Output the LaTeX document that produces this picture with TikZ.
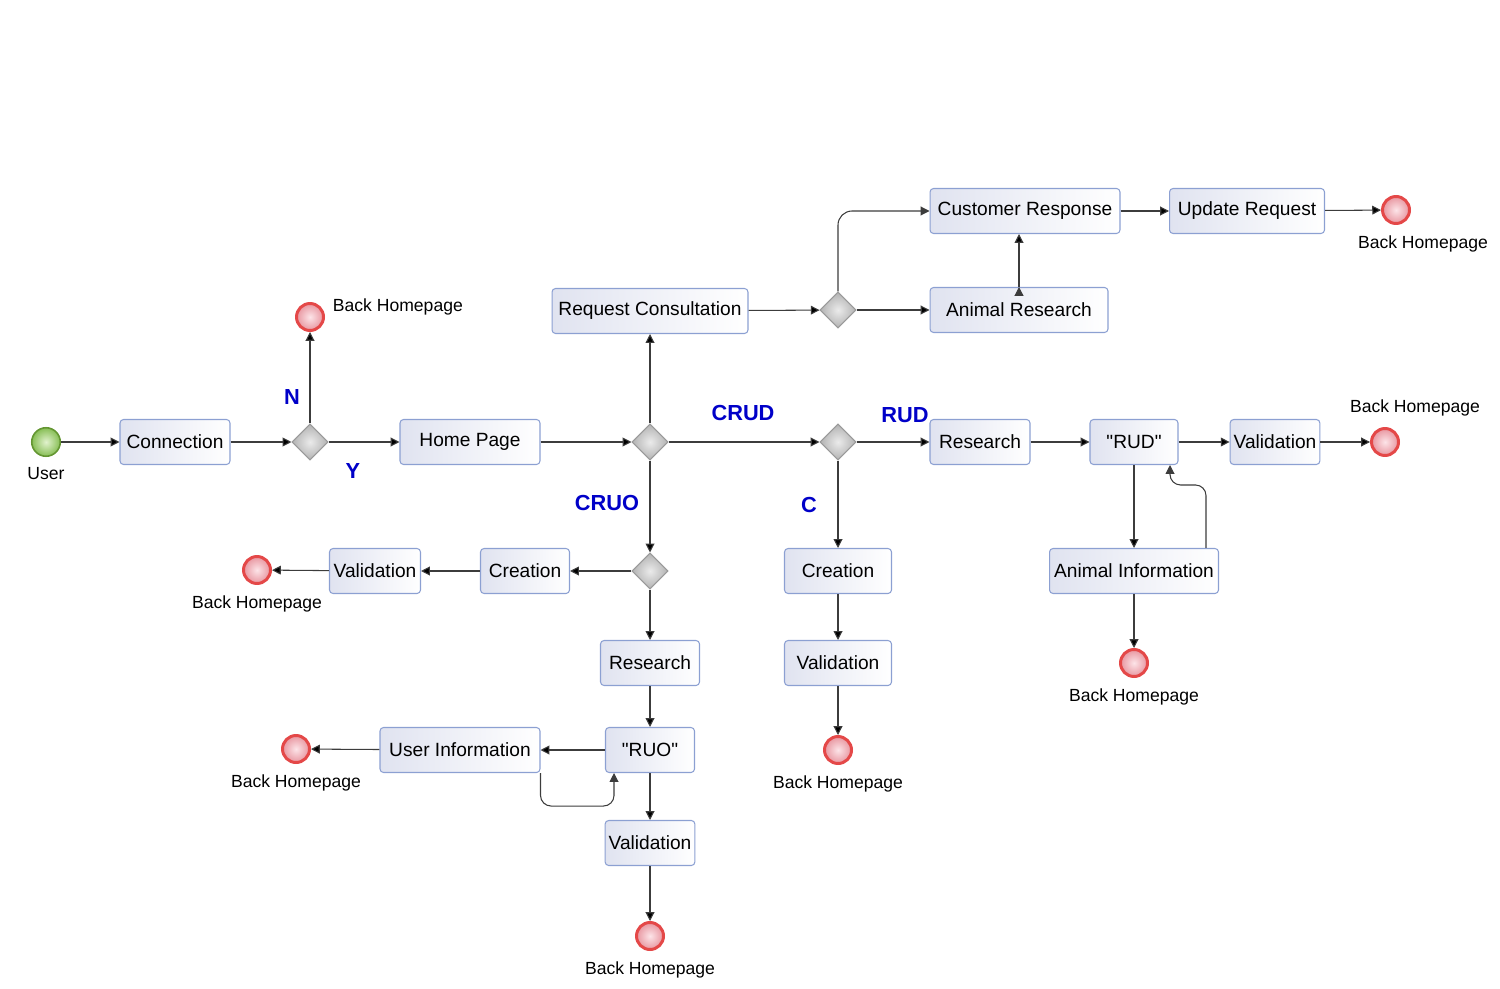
\documentclass[tikz,border=0pt]{standalone}
\usepackage{fontspec}
\setmainfont{Liberation Sans}[Ligatures=TeXOff]
\usetikzlibrary{arrows.meta,shapes.geometric,positioning}

\definecolor{lnk}{RGB}{60,60,60}
\definecolor{tskb}{RGB}{140,160,210}
\definecolor{tskl}{RGB}{224,227,240}
\definecolor{tagc}{RGB}{0,0,200}

\begin{document}
\begin{tikzpicture}[x=0.02cm, y=-0.02cm,
    >={Triangle[length=5pt,width=5pt]},
    lnk/.style = {draw=lnk, line width=0.6pt},
   task/.style = {draw=tskb, line width=0.6pt, rounded corners=2pt,
                  left color=tskl, right color=white,
                  minimum height=0.9cm, inner xsep=2pt,
                  font=\fontsize{10.9}{13}\selectfont},
   gate/.style = {diamond, draw=black!40, line width=0.6pt,
                  inner color=black!8, outer color=black!30,
                  minimum width=0.72cm, minimum height=0.72cm,
                  inner sep=0pt, aspect=1},
 startev/.style = {circle, draw={rgb,255:red,100;green,150;blue,50},
                  line width=0.9pt, minimum size=0.57cm, inner sep=0pt,
                  inner color={rgb,255:red,225;green,242;blue,205},
                  outer color={rgb,255:red,135;green,190;blue,85}},
  endev/.style = {circle, draw={rgb,255:red,228;green,72;blue,72},
                  line width=1.7pt, minimum size=0.54cm, inner sep=0pt,
                  inner color={rgb,255:red,252;green,228;blue,232},
                  outer color={rgb,255:red,232;green,150;blue,160}},
    tag/.style = {text=tagc, font=\fontsize{12.4}{15}\selectfont\bfseries},
every label/.append style = {font=\fontsize{10}{12}\selectfont},
    label distance = 2.5pt
                    ]
\useasboundingbox (0,0) rectangle (1500,989);
% start and first choice
\node (u)   [startev, label=below:User]            at (46,442)   {};
\node (cn)  [task, minimum width=2.2cm]            at (175,442)  {Connection};
\node (d1)  [gate]                                 at (310,442)  {};
\node (b1)  [endev, label={[yshift=0.2cm,label distance=1pt]right:Back Homepage}]
                                                   at (310,317)  {};
\node (hp)  [task, minimum width=2.8cm]            at (470,442)  {Home Page};
\node (d2)  [gate]                                 at (650,442)  {};
% consultation branch
\node (rc)  [task, minimum width=3.92cm]           at (650,311)  {Request Consultation};
\node (d3)  [gate]                                 at (838,310)  {};
\node (cr)  [task, minimum width=3.8cm]            at (1025,211) {Customer Response};
\node (ar)  [task, minimum width=3.56cm]           at (1019,310) {Animal Research};
\node (ur)  [task, minimum width=3.1cm]            at (1247,211) {Update Request};
\node (b2)  [endev, label={[xshift=0.54cm]below:Back Homepage}]
                                                   at (1396,210) {};
% CRUD branch
\node (d4)  [gate]                                 at (838,442)  {};
\node (rs)  [task, minimum width=2cm]              at (980,442)  {Research};
\node (rud) [task, minimum width=1.76cm]           at (1134,442) {"RUD"};
\node (va)  [task, minimum width=1.78cm]           at (1275,442) {Validation};
\node (b3)  [endev, label={[xshift=0.6cm]above:Back Homepage}]
                                                   at (1385,442) {};
\node (ai)  [task, minimum width=3.38cm]           at (1134,571) {Animal Information};
\node (b4)  [endev, label=below:Back Homepage]     at (1134,663) {};
\node (ct)  [task, minimum width=2.14cm]           at (838,571)  {Creation};
\node (vb)  [task, minimum width=2.14cm]           at (838,663)  {Validation};
\node (b5)  [endev, label=below:Back Homepage]     at (838,750)  {};
% CRUO branch
\node (d5)  [gate]                                 at (650,571)  {};
\node (cl)  [task, minimum width=1.78cm]           at (525,571)  {Creation};
\node (vl)  [task, minimum width=1.82cm]           at (375,571)  {Validation};
\node (b6)  [endev, label=below:Back Homepage]     at (257,570)  {};
\node (rl)  [task, minimum width=1.98cm]           at (650,663)  {Research};
\node (ruo) [task, minimum width=1.78cm]           at (650,750)  {"RUO"};
\node (ui)  [task, minimum width=3.2cm]            at (460,750)  {User Information};
\node (b7)  [endev, label=below:Back Homepage]     at (296,749)  {};
\node (vc)  [task, minimum width=1.78cm]           at (650,843)  {Validation};
\node (b8)  [endev, label=below:Back Homepage]     at (650,936)  {};
% choice labels
\node (tN)    [tag] at (292,397) {N};
\node (tY)    [tag] at (353,471) {Y};
\node (tCRUD) [tag] at (743,413) {CRUD};
\node (tRUD)  [tag] at (905,415) {RUD};
\node (tC)    [tag] at (809,505) {C};
\node (tCRUO) [tag] at (607,503) {CRUO};

\path[->, lnk]
    (u)   edge (cn)
    (cn)  edge (d1)
    (d1)  edge (b1)
    (d1)  edge (hp)
    (hp)  edge (d2)
    (d2)  edge (rc)
    (d2)  edge (d4)
    (d2)  edge (d5)
    (rc)  edge (d3)
    (d3)  edge (ar)
    (ar.north) edge (ar.north |- cr.south)
    (cr)  edge (ur)
    (ur)  edge (b2)
    (d4)  edge (rs)
    (d4)  edge (ct)
    (rs)  edge (rud)
    (rud) edge (va)
    (va)  edge (b3)
    (rud) edge (ai)
    (ai)  edge (b4)
    (ct)  edge (vb)
    (vb)  edge (b5)
    (d5)  edge (cl)
    (cl)  edge (vl)
    (vl)  edge (b6)
    (d5)  edge (rl)
    (rl)  edge (ruo)
    (ruo) edge (ui)
    (ui)  edge (b7)
    (ruo) edge (vc)
    (vc)  edge (b8);
% bent connectors
\draw[->, lnk, rounded corners=8pt] (d3.north) |- (cr);
\draw[->, lnk, rounded corners=6pt]
    ([xshift=1.44cm]ai.north) -- ++(0,-63) -| ([xshift=0.72cm]rud.south);
\draw[->, lnk, rounded corners=6pt]
    (ui.south east) -- ++(0,33) -| ([xshift=-0.72cm]ruo.south);
\end{tikzpicture}
\end{document}
